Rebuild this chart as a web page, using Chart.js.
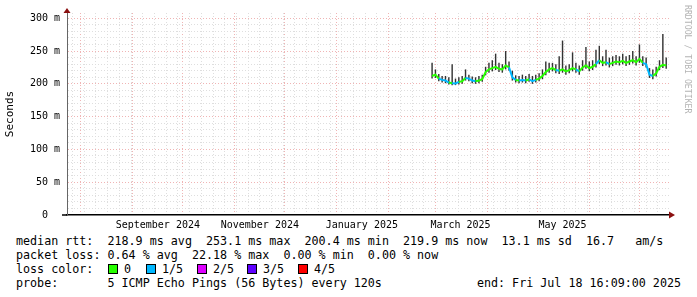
<!DOCTYPE html>
<html>
<head>
<meta charset="utf-8">
<script src="https://cdn.jsdelivr.net/npm/chart.js@4.4.1/dist/chart.umd.min.js"></script>
<style>
  body { margin: 0; background: #fff; width: 697px; height: 297px; overflow: hidden; position: relative;
         font-family: "DejaVu Sans Mono", monospace; color: #000; }
  #wrap { position: absolute; left: 0; top: 0; width: 697px; height: 232px; }
  .leg { position: absolute; left: 16px; font-size: 11.7px; line-height: 14px; white-space: pre; }
  .box { position: absolute; top: 264px; width: 8px; height: 8px; border: 1px solid #000; }
  .lbl { position: absolute; top: 262px; font-size: 11.7px; line-height: 14px; white-space: pre; }
  #brand { position: absolute; left: 683px; top: 5px; writing-mode: vertical-rl; font-size: 8.2px; color: #b4b4b4; white-space: pre; }
</style>
</head>
<body>
<div id="wrap"><canvas id="chart"></canvas></div>
<div id="brand">RRDTOOL / TOBI OETIKER</div>
<div class="leg" style="top:234px">median rtt:  218.9 ms avg  253.1 ms max  200.4 ms min  219.9 ms now  13.1 ms sd  16.7   am/s</div>
<div class="leg" style="top:248px">packet loss: 0.64 % avg  22.18 % max  0.00 % min  0.00 % now</div>
<div class="leg" style="top:262px">loss color:</div>
<div id="losskey"></div>
<div class="leg" style="top:276px">probe:       5 ICMP Echo Pings (56 Bytes) every 120s</div>
<div class="leg" style="top:276px;left:auto;right:16px">end: Fri Jul 18 16:09:00 2025</div>
<script>
// samples (2 day steps)
const sampleDates = [
  '2025-02-27','2025-03-01','2025-03-03','2025-03-05','2025-03-07','2025-03-09','2025-03-11','2025-03-13','2025-03-15','2025-03-17',
  '2025-03-19','2025-03-21','2025-03-23','2025-03-25','2025-03-27','2025-03-29','2025-03-31','2025-04-02','2025-04-04','2025-04-06',
  '2025-04-08','2025-04-10','2025-04-12','2025-04-14','2025-04-16','2025-04-18','2025-04-20','2025-04-22','2025-04-24','2025-04-26',
  '2025-04-28','2025-04-30','2025-05-02','2025-05-04','2025-05-06','2025-05-08','2025-05-10','2025-05-12','2025-05-14','2025-05-16',
  '2025-05-18','2025-05-20','2025-05-22','2025-05-24','2025-05-26','2025-05-28','2025-05-30','2025-06-01','2025-06-03','2025-06-05',
  '2025-06-07','2025-06-09','2025-06-11','2025-06-13','2025-06-15','2025-06-17','2025-06-19','2025-06-21','2025-06-23','2025-06-25',
  '2025-06-27','2025-06-29','2025-07-01','2025-07-03','2025-07-05','2025-07-07','2025-07-09','2025-07-11','2025-07-13','2025-07-15',
  '2025-07-17'
];
const medianRtt = [
  212, 214, 208, 206, 205, 202, 201, 200.5, 203, 204,
  209, 208, 205, 204, 205, 207, 218, 222, 224, 226,
  223, 222, 228, 225, 210, 206, 205, 206, 205, 207,
  204, 206, 208, 212, 218, 222, 224, 221, 220, 222,
  219, 221, 224, 222, 219, 225, 228, 224, 226, 230,
  236, 232, 233, 230, 232, 234, 233, 235, 232, 234,
  236, 233, 238, 232, 230, 214, 212, 216, 226, 229,
  228
];
const rttLow = [
  208, 209, 204, 202, 201, 199, 198, 198, 199, 200,
  205, 204, 201, 200, 201, 203, 213, 217, 219, 221,
  218, 217, 222, 220, 205, 202, 201, 202, 201, 203,
  200, 202, 204, 207, 213, 217, 219, 216, 215, 217,
  214, 216, 219, 217, 214, 220, 223, 219, 221, 225,
  230, 227, 228, 225, 227, 229, 228, 230, 227, 229,
  231, 228, 232, 227, 225, 209, 207, 211, 221, 224,
  223
];
const rttHigh = [
  232, 222, 215, 212, 212, 210, 230, 208, 210, 212,
  222, 214, 211, 210, 212, 214, 226, 232, 236, 246,
  232, 230, 250, 234, 220, 213, 212, 214, 212, 215,
  212, 214, 216, 222, 234, 232, 232, 230, 242, 266,
  228, 230, 248, 232, 228, 236, 256, 234, 236, 252,
  258, 242, 252, 240, 242, 244, 242, 246, 242, 244,
  250, 242, 260, 242, 240, 224, 222, 226, 236, 276,
  240
];
// 0 = no loss, 1 = 1/5 lost ...
const lossLevel = [
  0, 0, 0, 1, 1, 1, 0, 1, 1, 0,
  0, 1, 1, 1, 0, 0, 0, 0, 0, 0,
  0, 0, 0, 0, 1, 1, 0, 1, 1, 0,
  1, 1, 0, 0, 0, 0, 0, 0, 1, 0,
  0, 0, 0, 0, 1, 0, 0, 0, 0, 0,
  1, 0, 0, 1, 0, 0, 0, 0, 0, 0,
  0, 0, 0, 0, 1, 1, 1, 0, 0, 0,
  0
];
const lossColors = ['#26ff00', '#00b8ff', '#dd00ff', '#5e00ff', '#ff0000'];
const lossNames = ['0', '1/5', '2/5', '3/5', '4/5'];

const monthStarts = ['2024-08-01','2024-09-01','2024-10-01','2024-11-01','2024-12-01','2025-01-01',
                     '2025-02-01','2025-03-01','2025-04-01','2025-05-01','2025-06-01','2025-07-01'];
const labelDates = ['2024-09-16','2024-11-16','2025-01-16','2025-03-16','2025-05-16'];
const labelTexts = ['September 2024','November 2024','January 2025','March 2025','May 2025'];
const firstWeekLine = '2024-07-27';
const rangeStart = '2024-07-23T16:09:00Z';
const rangeEnd = '2025-07-18T16:09:00Z';

const EPOCH = Date.UTC(2025, 0, 1);
function dayNum(s) {
  if (s.length === 10) s += 'T00:00:00Z';
  return (Date.parse(s) - EPOCH) / 86400000;
}

const xMin = dayNum(rangeStart);
const xMax = dayNum(rangeEnd);
const monthVals = monthStarts.map(dayNum);
const labelVals = labelDates.map(dayNum);

// legend colour boxes
const boxX = [108, 146, 197, 247, 298];
const key = document.getElementById('losskey');
lossNames.forEach((n, i) => {
  const b = document.createElement('div');
  b.className = 'box';
  b.style.left = boxX[i] + 'px';
  b.style.background = lossColors[i];
  key.appendChild(b);
  const t = document.createElement('div');
  t.className = 'lbl';
  t.style.left = (boxX[i] + 16) + 'px';
  t.textContent = n;
  key.appendChild(t);
});

const xs = sampleDates.map(dayNum);
const smokeData = xs.map((x, i) => ({ x: x, y: [rttLow[i], rttHigh[i]] }));
const medianData = xs.map((x, i) => ({ x: x, y: medianRtt[i] }));

const RED = '#f0b4b4';
const GRAY = '#dedede';
const NONE = 'rgba(0,0,0,0)';

const arrows = {
  id: 'arrows',
  afterDraw(chart) {
    const { ctx, chartArea: a } = chart;
    ctx.save();
    ctx.strokeStyle = '#000';
    ctx.lineWidth = 1.5;
    ctx.beginPath(); ctx.moveTo(62, a.bottom); ctx.lineTo(a.left, a.bottom); ctx.stroke();
    ctx.fillStyle = '#8b1010';
    ctx.beginPath();
    ctx.moveTo(a.left - 3.5, a.top); ctx.lineTo(a.left + 3.5, a.top); ctx.lineTo(a.left, a.top - 5);
    ctx.fill();
    ctx.beginPath();
    ctx.moveTo(a.right, a.bottom - 3.5); ctx.lineTo(a.right, a.bottom + 3.5); ctx.lineTo(a.right + 6, a.bottom);
    ctx.fill();
    ctx.restore();
  }
};

const tickFont = { family: '"DejaVu Sans Mono", monospace', size: 10 };

new Chart(document.getElementById('chart'), {
  type: 'bar',
  data: {
    datasets: [
      {
        type: 'line',
        data: medianData,
        borderWidth: 2,
        pointRadius: 0,
        tension: 0,
        order: 0,
        segment: { borderColor: c => lossColors[lossLevel[c.p1DataIndex]] }
      },
      {
        type: 'bar',
        data: smokeData,
        backgroundColor: '#333333',
        barPercentage: 0.85,
        categoryPercentage: 1,
        order: 1
      }
    ]
  },
  options: {
    responsive: true,
    maintainAspectRatio: false,
    animation: false,
    layout: { padding: { top: 12, right: 28, left: 0, bottom: 0 } },
    plugins: { legend: { display: false }, tooltip: { enabled: false } },
    scales: {
      x: {
        type: 'linear',
        min: xMin,
        max: xMax,
        offset: false,
        afterBuildTicks(scale) {
          const t = [];
          for (let v = dayNum(firstWeekLine); v < xMax; v += 7) t.push({ value: v, kind: 'week' });
          monthVals.forEach(v => t.push({ value: v, kind: 'month' }));
          labelVals.forEach((v, i) => t.push({ value: v, kind: 'label', text: labelTexts[i] }));
          t.sort((a, b) => a.value - b.value);
          scale.ticks = t;
        },
        afterFit(scale) { scale.height = 17; },
        grid: {
          offset: false,
          drawTicks: false,
          lineWidth: 1,
          color(c) {
            const k = c.tick && c.tick.kind;
            if (k === 'label') return NONE;
            return k === 'month' ? RED : GRAY;
          }
        },
        border: { display: true, color: '#000', width: 1.5, dash: [1, 2] },
        ticks: {
          autoSkip: false,
          maxRotation: 0,
          padding: 4,
          color: '#000',
          font: tickFont,
          callback: (v, i, ticks) => (ticks[i].kind === 'label' ? ticks[i].text : '')
        }
      },
      y: {
        min: 0,
        max: 308,
        afterBuildTicks(scale) {
          const t = [];
          for (let v = 0; v <= 300; v += 10) t.push({ value: v });
          scale.ticks = t;
        },
        afterFit(scale) { scale.width = 67; },
        grid: {
          drawTicks: false,
          lineWidth: 1,
          color(c) {
            const v = c.tick && c.tick.value;
            if (v === 0) return NONE;
            return v % 50 === 0 ? RED : GRAY;
          }
        },
        border: { display: true, color: '#666', width: 1, dash: [1, 2] },
        ticks: {
          autoSkip: false,
          padding: 7,
          color: '#000',
          font: tickFont,
          callback: v => (v % 50 === 0 ? (v === 0 ? '0  ' : v + ' m') : '')
        },
        title: {
          display: true,
          text: 'Seconds',
          color: '#000',
          font: { family: '"DejaVu Sans Mono", monospace', size: 11 },
          padding: { top: 4, bottom: 0 }
        }
      }
    }
  },
  plugins: [arrows]
});
</script>
</body>
</html>
